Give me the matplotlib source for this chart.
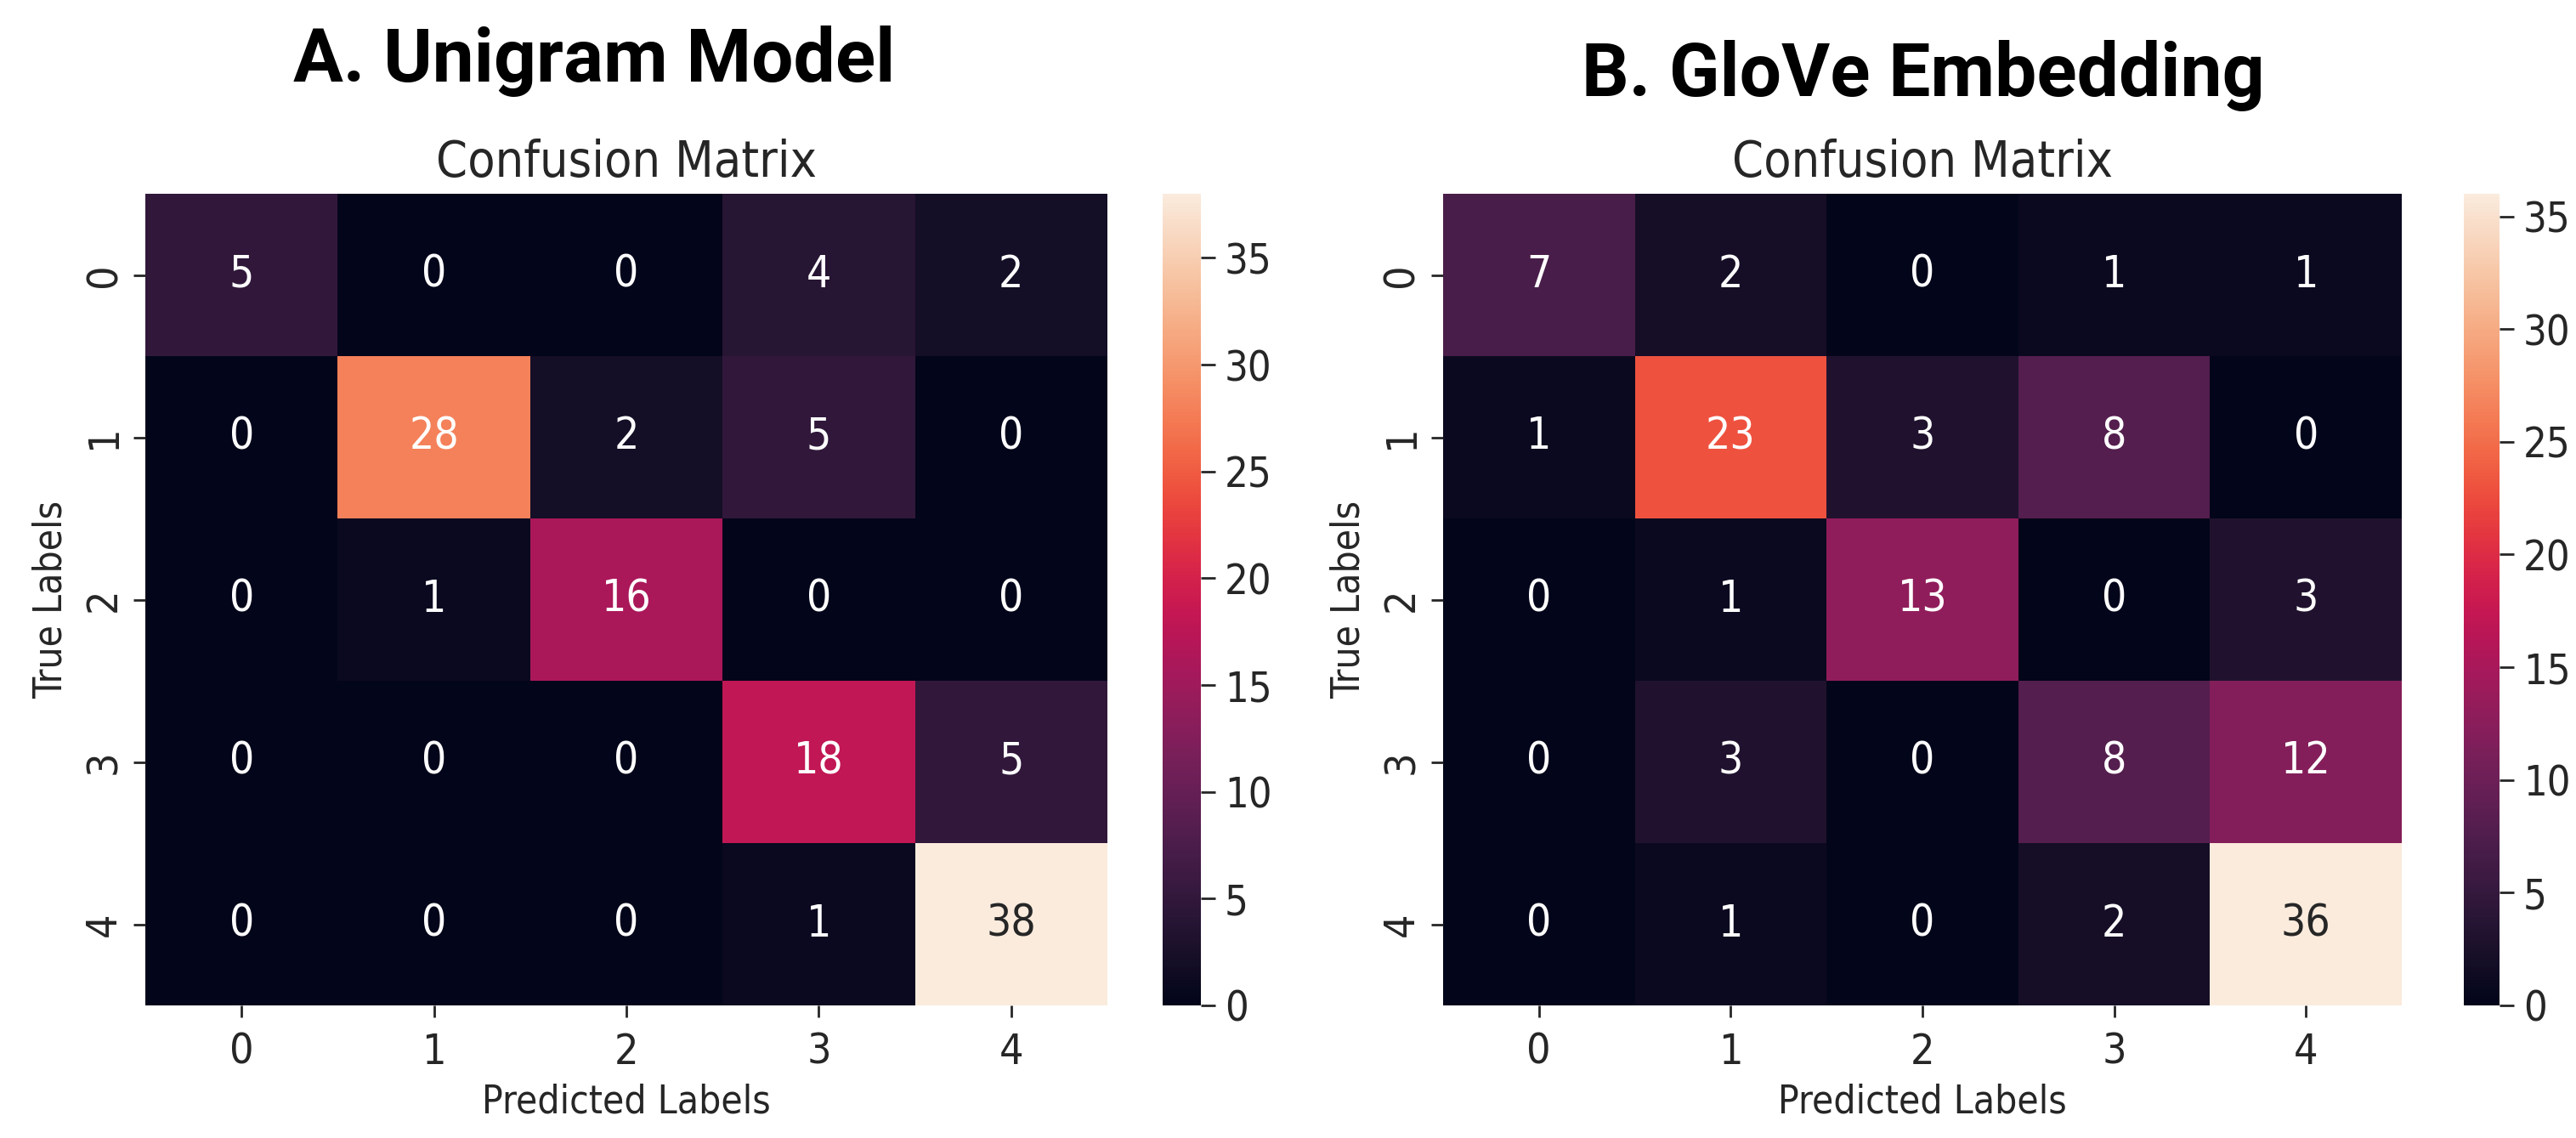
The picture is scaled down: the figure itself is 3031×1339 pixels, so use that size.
import matplotlib
matplotlib.use('Agg')
import matplotlib.pyplot as plt
import numpy as np
from matplotlib.colors import LinearSegmentedColormap, to_rgb

try:
    import seaborn as sns
    cmap = sns.color_palette('rocket', as_cmap=True)
except Exception:
    cmap = LinearSegmentedColormap.from_list('rocket_like', [
        '#03051a', '#221331', '#4c1d4b', '#701f57', '#a11a5b',
        '#cb1b4f', '#ed3a3a', '#f37651', '#f6a47c', '#f9cdac', '#faebdd'])

plt.rcParams['font.family'] = ['DejaVu Sans']
plt.rcParams['font.stretch'] = 'condensed'

# data
labels = ['0', '1', '2', '3', '4']
unigram_cm = [[5, 0, 0, 4, 2],
              [0, 28, 2, 5, 0],
              [0, 1, 16, 0, 0],
              [0, 0, 0, 18, 5],
              [0, 0, 0, 1, 38]]
glove_cm = [[7, 2, 0, 1, 1],
            [1, 23, 3, 8, 0],
            [0, 1, 13, 0, 3],
            [0, 3, 0, 8, 12],
            [0, 1, 0, 2, 36]]
panel_titles = ['A. Unigram Model', 'B. GloVe Embedding']
cbar_ticks = [0, 5, 10, 15, 20, 25, 30, 35]

W, H = 3031, 1339
fig = plt.figure(figsize=(W / 100, H / 100), dpi=100)
fig.patch.set_facecolor('white')

txt = '#262626'


def px_axes(x0, x1, y0, y1):
    return fig.add_axes([x0 / W, 1 - y1 / H, (x1 - x0) / W, (y1 - y0) / H])


def luminance(c):
    rgb = np.array(to_rgb(c))
    rgb = np.where(rgb <= 0.03928, rgb / 12.92, ((rgb + 0.055) / 1.055) ** 2.4)
    return 0.2126 * rgb[0] + 0.7152 * rgb[1] + 0.0722 * rgb[2]


def draw_cm(cm, ax_box, cax_box):
    cm = np.array(cm)
    ax = px_axes(*ax_box)
    cax = px_axes(*cax_box)
    vmax = cm.max()
    mesh = ax.pcolormesh(np.arange(6), np.arange(6), cm, cmap=cmap, vmin=0, vmax=vmax)
    ax.set_xlim(0, 5)
    ax.set_ylim(5, 0)
    for s in ax.spines.values():
        s.set_visible(False)
    for i in range(cm.shape[0]):
        for j in range(cm.shape[1]):
            lum = luminance(cmap(cm[i, j] / vmax))
            ax.text(j + 0.5, i + 0.5, str(cm[i, j]), ha='center', va='center',
                    fontsize=37, color=txt if lum > 0.408 else 'white')
    ax.set_xticks(np.arange(5) + 0.5)
    ax.set_yticks(np.arange(5) + 0.5)
    ax.set_xticklabels(labels)
    ax.set_yticklabels(labels, rotation=90, va='center')
    ax.tick_params(length=10, width=2, labelsize=36, colors=txt)
    ax.tick_params(axis='x', pad=12)
    ax.tick_params(axis='y', pad=8)
    ax.set_xlabel('Predicted Labels', fontsize=33, color=txt, labelpad=9)
    ax.set_ylabel('True Labels', fontsize=33, color=txt, labelpad=11)
    ax.set_title('Confusion Matrix', fontsize=42.5, color=txt, pad=14.5)
    cb = fig.colorbar(mesh, cax=cax)
    cb.outline.set_visible(False)
    cb.set_ticks(cbar_ticks)
    cax.tick_params(length=12, width=2, pad=8, labelsize=35, colors=txt)
    return ax


draw_cm(unigram_cm, (171, 1303, 228, 1183), (1368, 1413, 228, 1183))
draw_cm(glove_cm, (1698, 2826, 228, 1183), (2899, 2941, 228, 1183))

fig.text(699 / W, 1 - 96 / H, panel_titles[0], ha='center', va='baseline',
         fontsize=63, fontweight='bold', family='Roboto', color='black')
fig.text(2263 / W, 1 - 113 / H, panel_titles[1], ha='center', va='baseline',
         fontsize=63, fontweight='bold', family='Roboto', color='black')

fig.savefig('out.png', dpi=100)
